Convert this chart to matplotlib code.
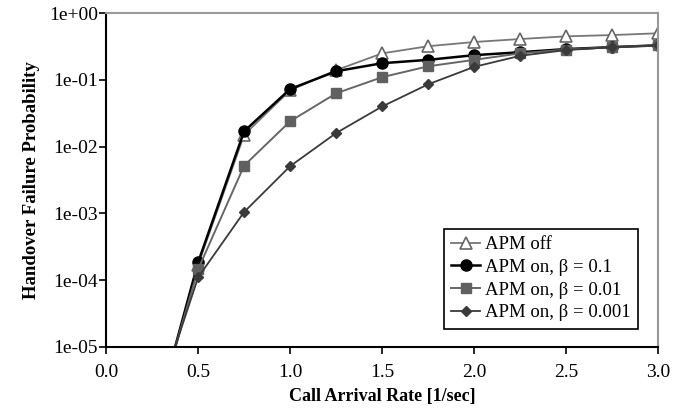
import numpy as np
import matplotlib
matplotlib.use("Agg")
import matplotlib.pyplot as plt
from matplotlib.ticker import FixedLocator, FuncFormatter

plt.rcParams['font.family'] = ['Liberation Serif', 'DejaVu Serif']

# call arrival rate [1/sec]
rate = [0.25, 0.5, 0.75, 1.0, 1.25, 1.5, 1.75, 2.0, 2.25, 2.5, 2.75, 3.0]

# handover failure probability (first point lies below the axis, only the line shows)
apm_off = [5.0e-7, 1.7e-4, 1.5e-2, 7.0e-2, 0.14, 0.25, 0.32, 0.37, 0.41, 0.45, 0.47, 0.50]
apm_b01 = [5.4e-7, 1.85e-4, 1.7e-2, 7.3e-2, 0.135, 0.178, 0.20, 0.235, 0.26, 0.29, 0.31, 0.33]
apm_b001 = [6.5e-7, 1.45e-4, 5.2e-3, 2.4e-2, 6.3e-2, 0.11, 0.16, 0.20, 0.25, 0.285, 0.31, 0.33]
apm_b0001 = [9.0e-7, 1.1e-4, 1.05e-3, 5.1e-3, 1.6e-2, 4.0e-2, 8.6e-2, 0.157, 0.23, 0.28, 0.31, 0.33]

fig = plt.figure(figsize=(6.8, 4.12), dpi=100)
ax = fig.add_axes([0.156, 0.158, 0.812, 0.81])

ax.plot(rate, apm_off, color='#777777', lw=1.3, marker='^', ms=8,
        mfc='white', mec='#666666', mew=1.2, label='APM off')
ax.plot(rate, apm_b01, color='black', lw=1.8, marker='o', ms=8,
        mfc='black', mec='black', label='APM on, β = 0.1')
ax.plot(rate, apm_b001, color='#666666', lw=1.4, marker='s', ms=7,
        mfc='#606060', mec='#606060', label='APM on, β = 0.01')
ax.plot(rate, apm_b0001, color='#3a3a3a', lw=1.3, marker='D', ms=5,
        mfc='#3a3a3a', mec='#3a3a3a', label='APM on, β = 0.001')

ax.set_yscale('log')
ax.set_ylim(1e-5, 1)
ax.set_xlim(0, 3.0)
ax.yaxis.set_major_locator(FixedLocator([1e-5, 1e-4, 1e-3, 1e-2, 1e-1, 1]))
ax.yaxis.set_minor_locator(FixedLocator([]))
ax.yaxis.set_major_formatter(FuncFormatter(lambda v, p: '%.0e' % v))
ax.set_xticks(np.arange(0, 3.01, 0.5))
ax.xaxis.set_major_formatter(FuncFormatter(lambda v, p: '%.1f' % v))

ax.tick_params(axis='both', direction='out', length=5, width=1.2,
               labelsize=14, colors='black')
ax.tick_params(axis='y', pad=1)
ax.tick_params(axis='x', pad=7)
ax.spines['left'].set_linewidth(1.5)
ax.spines['bottom'].set_linewidth(1.5)
ax.spines['top'].set_color('#999999')
ax.spines['right'].set_color('#999999')
ax.spines['top'].set_linewidth(1.5)
ax.spines['right'].set_linewidth(1.5)

ax.set_xlabel('Call Arrival Rate [1/sec]', fontsize=13, fontweight='bold', labelpad=5)
ax.set_ylabel('Handover Failure Probability', fontsize=13.5, fontweight='bold', labelpad=6)

leg = ax.legend(loc='lower right', fontsize=13.5, fancybox=False, framealpha=1,
                edgecolor='black', borderpad=0.4, labelspacing=0.3,
                handlelength=1.5, handletextpad=0.3, borderaxespad=0,
                bbox_to_anchor=(0.964, 0.054))
leg.get_frame().set_linewidth(1.2)

fig.savefig('out.png', dpi=100)
